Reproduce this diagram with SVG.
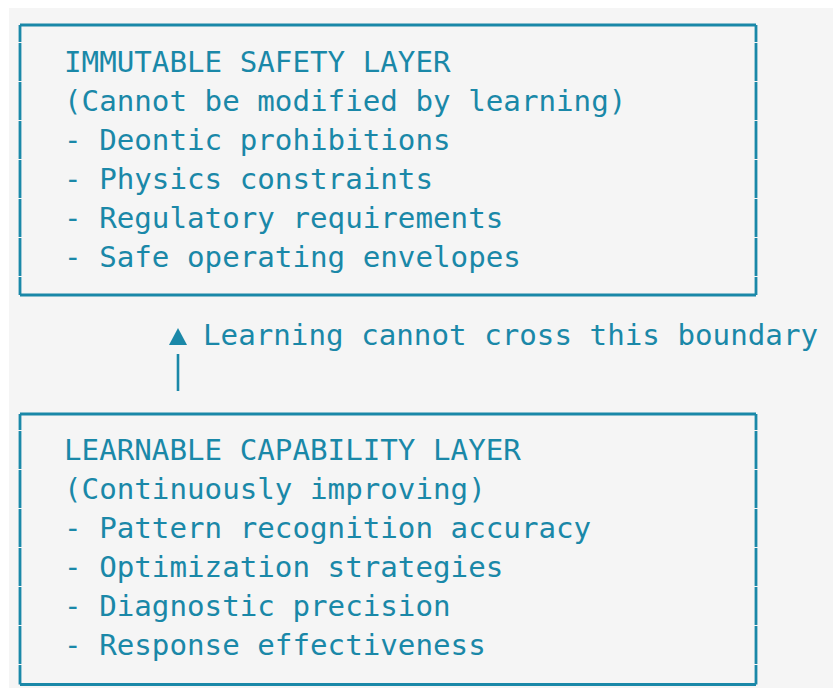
<svg xmlns="http://www.w3.org/2000/svg" width="833" height="688" viewBox="0 0 833 688">
  <style>
    .bg { fill: #f5f5f5; }
    .frame { fill: none; stroke: #1a88a8; stroke-width: 2.8; }
    .side { fill: none; stroke: #1a88a8; stroke-width: 2.8; stroke-dasharray: 38 1; }
    .txt { font-family: "DejaVu Sans Mono", "Liberation Mono", monospace; font-size: 29.2px; fill: #1a88a8; }
    .link { stroke: #1a88a8; stroke-width: 2.6; fill: none; }
    .head { fill: #1a88a8; }
  </style>

  <rect class="bg" x="9" y="8" width="824" height="680"/>

  <!-- Upper box: fixed safety rules -->
  <g id="safety-layer">
    <path class="frame" d="M20 25 H756 M20 295 H756"/>
    <path class="side" d="M20 25 V295 M756 25 V295" stroke-dashoffset="21"/>
    <text class="txt" x="64" y="72">IMMUTABLE SAFETY LAYER</text>
    <text class="txt" x="64" y="111">(Cannot be modified by learning)</text>
    <text class="txt" x="64" y="150">- Deontic prohibitions</text>
    <text class="txt" x="64" y="189">- Physics constraints</text>
    <text class="txt" x="64" y="228">- Regulatory requirements</text>
    <text class="txt" x="64" y="267">- Safe operating envelopes</text>
  </g>

  <!-- Boundary marker between the layers -->
  <g id="connectors">
    <polygon class="head" points="178,328 187,345 169,345"/>
    <line class="link" x1="178" y1="354" x2="178" y2="391"/>
    <text class="txt" x="203" y="345">Learning cannot cross this boundary</text>
  </g>

  <!-- Lower box: adaptive capabilities -->
  <g id="capability-layer">
    <path class="frame" d="M20 414 H756 M20 684.5 H756"/>
    <path class="side" d="M20 414 V684.5 M756 414 V684.5" stroke-dashoffset="22"/>
    <text class="txt" x="64" y="460">LEARNABLE CAPABILITY LAYER</text>
    <text class="txt" x="64" y="499">(Continuously improving)</text>
    <text class="txt" x="64" y="538">- Pattern recognition accuracy</text>
    <text class="txt" x="64" y="577">- Optimization strategies</text>
    <text class="txt" x="64" y="616">- Diagnostic precision</text>
    <text class="txt" x="64" y="655">- Response effectiveness</text>
  </g>
</svg>
